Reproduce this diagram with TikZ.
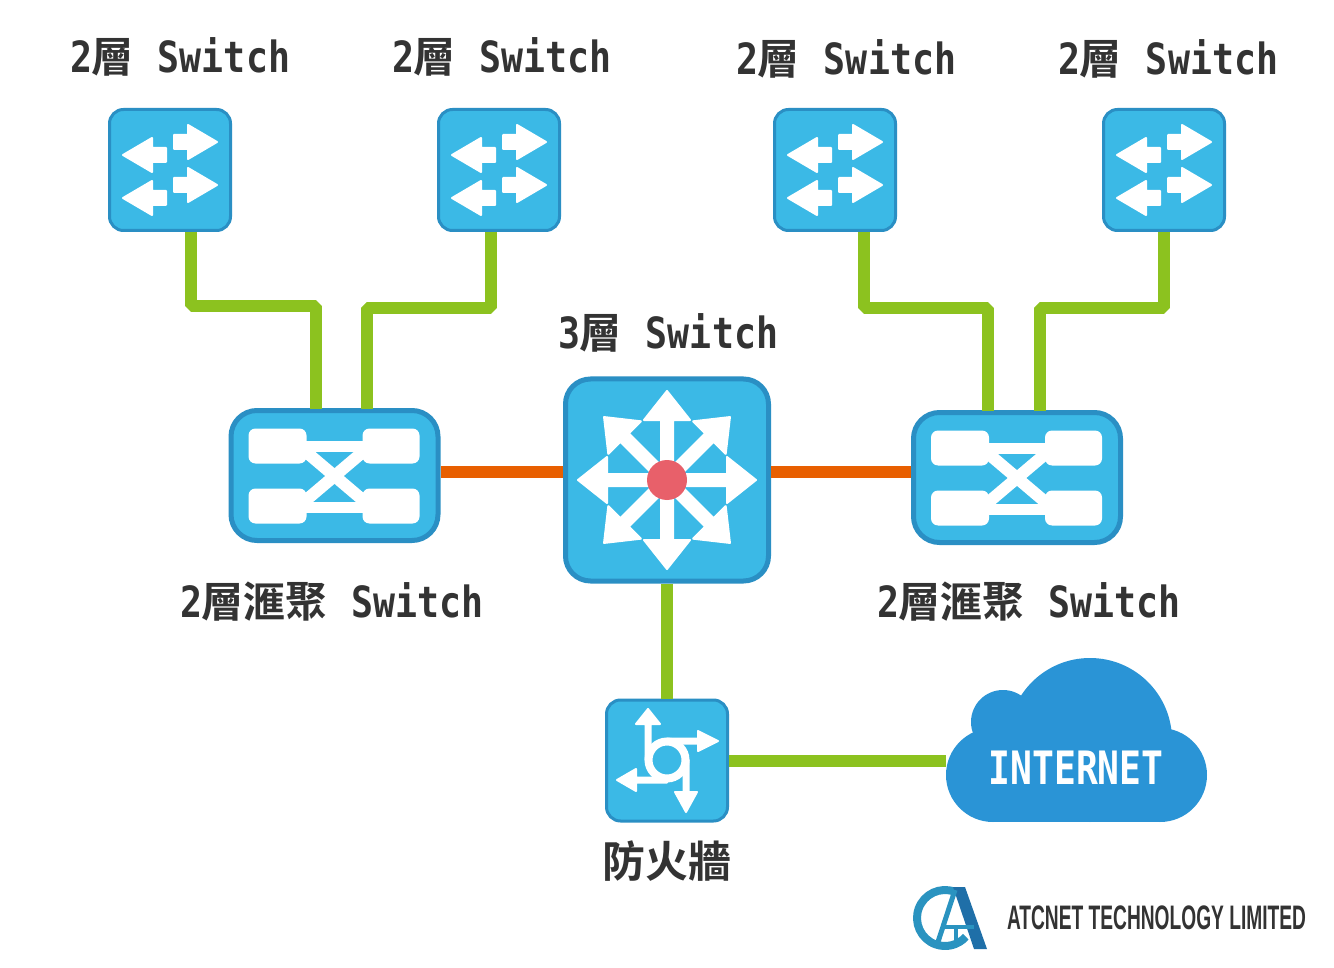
\documentclass[tikz,border=0pt]{standalone}
\usepackage{fontspec}
\newfontfamily\cjkf{Noto Sans CJK TC Bold}
\newfontfamily\monof[FakeStretch=0.85]{DejaVu Sans Mono Bold}
\newfontfamily\inetf[FakeStretch=0.79]{DejaVu Sans Mono Bold}
\newfontfamily\compf[FakeStretch=0.564]{Liberation Sans Bold}
\definecolor{boxfill}{HTML}{3BB9E6}
\definecolor{boxline}{HTML}{2A8FC4}
\definecolor{linkgreen}{HTML}{8CC21F}
\definecolor{linkorange}{HTML}{E85F00}
\definecolor{dot}{HTML}{E8606A}
\definecolor{cloudblue}{HTML}{2A94D6}
\definecolor{txt}{HTML}{333333}
\definecolor{logoa}{HTML}{2A93C0}
\definecolor{logob}{HTML}{1F6FA8}
\tikzset{
  dev/.style={draw=boxline,fill=boxfill,inner sep=0pt},
  smallbox/.style={dev,line width=3pt,rounded corners=14pt,minimum width=121pt,minimum height=121pt},
  aggbox/.style={dev,line width=5pt,rounded corners=26pt,minimum width=207pt,minimum height=130pt},
  corebox/.style={dev,line width=5pt,rounded corners=25pt,minimum width=203pt,minimum height=202pt},
  lbl/.style={text=txt,inner sep=0pt,outer sep=0pt,anchor=center},
  glink/.style={draw=linkgreen,line width=12pt,line join=bevel},
  olink/.style={draw=linkorange,line width=12pt},
  icon/.style={fill=white,draw=white,line width=2pt,line join=round}
}
% x, y, canvas angle, length, head length, half head, half shaft, tail start
\newcommand\arw[8]{\begin{scope}[shift={(#1,#2)},rotate=#3]
\path[icon] (#8,-#7)--(#4-#5,-#7)--(#4-#5,-#6)--(#4,0)--(#4-#5,#6)--(#4-#5,#7)--(#8,#7)--cycle;
\end{scope}}
\newcommand\swicon[2]{\begin{scope}[shift={(#1,#2)}]
\arw{4}{-28}{0}{43}{29}{17}{7}{0}
\arw{4}{15}{0}{43}{29}{17}{7}{0}
\arw{-4}{-15}{180}{43}{29}{17}{7}{0}
\arw{-4}{28}{180}{43}{29}{17}{7}{0}
\end{scope}}
\newcommand\aggicon[2]{\begin{scope}[shift={(#1,#2)}]
\fill[white,rounded corners=7pt] (-86,-47) rectangle (-28,-12);
\fill[white,rounded corners=7pt] (28,-47) rectangle (85,-12);
\fill[white,rounded corners=7pt] (-86,13) rectangle (-28,48);
\fill[white,rounded corners=7pt] (28,13) rectangle (85,48);
\fill[white] (-30,-35) rectangle (30,-24);
\fill[white] (-30,26) rectangle (30,37);
\draw[white,line width=12pt] (-36,-30) -- (36,31);
\draw[white,line width=12pt] (36,-30) -- (-36,31);
\end{scope}}
\newcommand\toplabel[1]{\fontsize{43}{43}\monof #1\hspace{-1pt}{\cjkf\fontsize{42}{42}\selectfont 層}\hspace{24pt}Switch}
\newcommand\agglabel{\fontsize{43}{43}\monof 2\hspace{-1pt}{\cjkf\fontsize{42}{42}\selectfont 層滙聚}\hspace{24pt}Switch}
\begin{document}
\begin{tikzpicture}[x=1pt,y=-1pt]
\useasboundingbox (0,0) rectangle (1334,968);
\fill[white] (0,0) rectangle (1334,968);
% devices
\node[smallbox] (s1) at (170,170) {};
\node[smallbox] (s2) at (499,170) {};
\node[smallbox] (s3) at (835,170) {};
\node[smallbox] (s4) at (1164,170) {};
\node[aggbox] (a1) at (334.5,475.5) {};
\node[aggbox] (a2) at (1017,477.5) {};
\node[corebox] (core) at (667,480) {};
\node[smallbox] (fw) at (667,760.5) {};
% cloud
\fill[cloudblue] (993,775) circle[radius=47];
\fill[cloudblue] (1160,775) circle[radius=47];
\fill[cloudblue] (993,728) rectangle (1160,822);
\fill[cloudblue] (1003,722) circle[radius=32];
\fill[cloudblue] (1090,740) circle[radius=82];
\node[inner sep=0pt,outer sep=0pt,minimum width=262pt,minimum height=164pt] (cloud) at (1077,740) {};
% connectors
\coordinate (p1a) at (316,409); \coordinate (p1b) at (367,409);
\coordinate (p2a) at (988,411); \coordinate (p2b) at (1040,411);
\coordinate (r1) at (0,306); \coordinate (r2) at (0,308);
\draw[glink] ([xshift=21pt]s1.south) |- (p1a |- r1) -- (p1a);
\draw[glink] ([xshift=-8pt]s2.south) |- (p1b |- r2) -- (p1b);
\draw[glink] ([xshift=29pt]s3.south) |- (p2a |- r2) -- (p2a);
\draw[glink] (s4.south) |- (p2b |- r2) -- (p2b);
\coordinate (oy) at (0,472);
\draw[olink] (a1.east |- oy) -- (core.west |- oy);
\draw[olink] (core.east |- oy) -- (a2.west |- oy);
\draw[glink] (core.south) -- (fw.north);
\coordinate (gy) at (0,761);
\draw[glink] (fw.east |- gy) -- (cloud.west |- gy);
% icons
\swicon{170}{170}\swicon{499}{170}\swicon{835}{170}\swicon{1164}{170}
\aggicon{334.5}{475.5}\aggicon{1017}{477.5}
\foreach \a in {0,45,...,315}{\arw{667}{480}{\a}{89}{29}{23}{6}{0}}
\fill[dot] (667,480) circle[radius=20];
% firewall icon
\draw[white,line width=8pt] (667,760) circle[radius=18.5];
\arw{648}{760}{90}{51}{15}{12}{2.5}{0}
\arw{667}{741}{0}{51}{20}{10}{2.5}{0}
\arw{686}{760}{270}{52}{20}{11}{2.5}{0}
\arw{667}{780}{180}{50}{19}{11}{2.5}{0}
% labels
\node[lbl] (t1) at (180.5,57) {\toplabel{2}};
\node[lbl] (t2) at (502,57) {\toplabel{2}};
\node[lbl] (t3) at (846.5,59) {\toplabel{2}};
\node[lbl] (t4) at (1168.5,59) {\toplabel{2}};
\node[lbl] (t5) at (668.5,333) {\toplabel{3}};
\node[lbl] (t6) at (332,602) {\agglabel};
\node[lbl] (t7) at (1029,602) {\agglabel};
\node[lbl] (t8) at (667,861) {\cjkf\fontsize{43}{43}\selectfont 防火牆};
\node[inner sep=0pt,text=white] (t9) at (1076,768) {\fontsize{46}{46}\inetf INTERNET};
\node[lbl,anchor=west] (t10) at (1007,918) {\fontsize{34}{34}\compf ATCNET TECHNOLOGY LIMITED};
% logo
\draw[logoa,line width=8pt] (954.6,891.7) arc[start angle=-70,end angle=-318,radius=28];
\fill[logob] (953,887) -- (965,887) -- (987,949) -- (974,949) -- cycle;
\draw[logoa,line width=5pt] (955,890) -- (936,948);
\draw[logoa,line width=4pt] (942,927) -- (974,927);
\draw[logoa,line width=4pt] (956,927) -- (956,946);
\end{tikzpicture}
\end{document}
